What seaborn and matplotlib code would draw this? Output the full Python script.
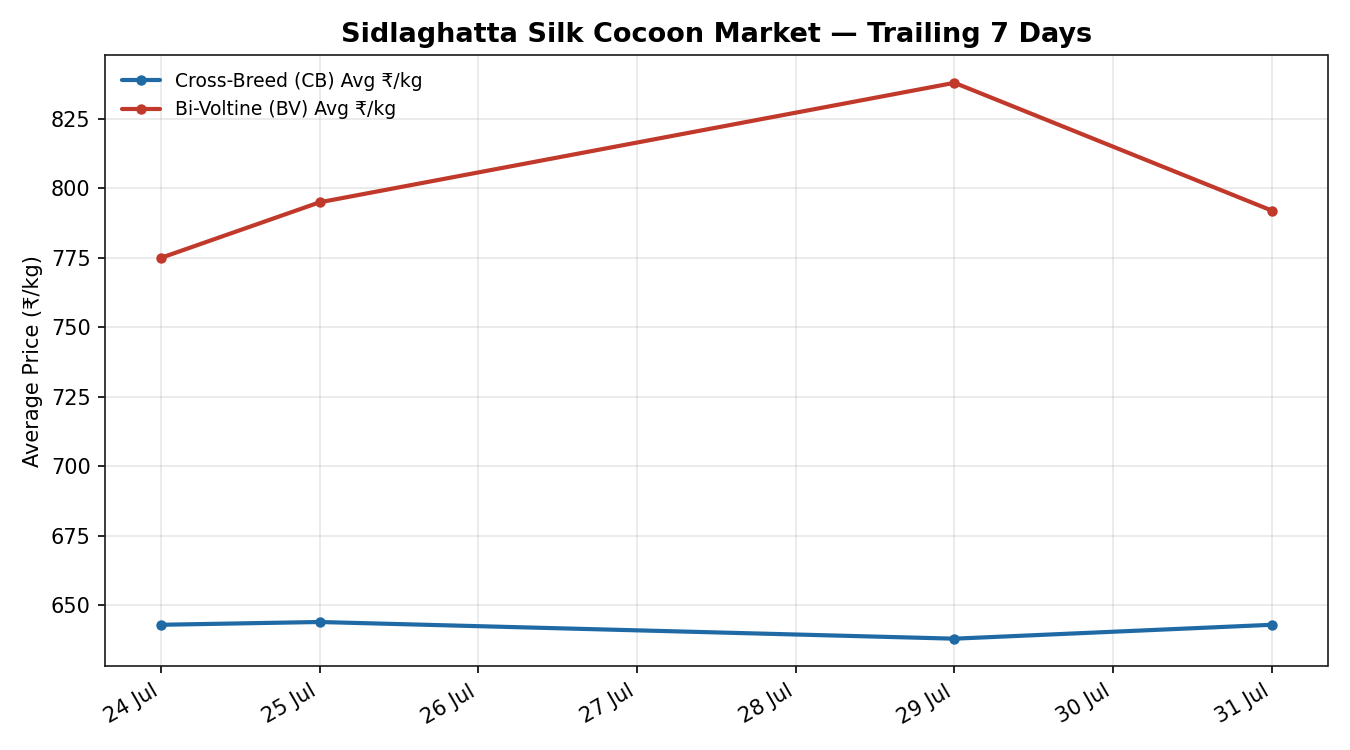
import pandas as pd
import numpy as np
import seaborn as sns
import matplotlib.pyplot as plt
import matplotlib.dates as mdates

dates = ["2024-07-24", "2024-07-25", "2024-07-29", "2024-07-31"]
cb_price = [643, 644, 638, 643]
bv_price = [775, 795, 838, 792]
cb_label = "Cross-Breed (CB) Avg ₹/kg"
bv_label = "Bi-Voltine (BV) Avg ₹/kg"

df = pd.DataFrame({
    "date": pd.to_datetime(dates * 2),
    "price": cb_price + bv_price,
    "series": [cb_label] * len(dates) + [bv_label] * len(dates),
})

sns.set_style("ticks", rc={
    "text.color": "black", "axes.labelcolor": "black",
    "xtick.color": "black", "ytick.color": "black",
    "axes.edgecolor": "#1a1a1a", "grid.color": "#b0b0b0",
})
plt.rcParams['font.family'] = ['DejaVu Sans']

fig, ax = plt.subplots(figsize=(9, 5), dpi=150)
sns.lineplot(data=df, x="date", y="price", hue="series", marker="o",
             palette={cb_label: "#1f6aa5", bv_label: "#c0392b"},
             linewidth=2, markersize=5, markeredgewidth=0, ax=ax)

ax.set_title("Sidlaghatta Silk Cocoon Market — Trailing 7 Days",
             fontsize=13, fontweight="bold")
ax.set_xlabel("")
ax.set_ylabel("Average Price (₹/kg)")
ax.xaxis.set_major_locator(mdates.DayLocator())
ax.xaxis.set_major_formatter(mdates.DateFormatter("%d %b"))
ax.grid(True, alpha=0.3)
ax.legend(frameon=False, loc="upper left", fontsize=9, title=None)
fig.autofmt_xdate()
fig.tight_layout()
fig.savefig("out.png")
